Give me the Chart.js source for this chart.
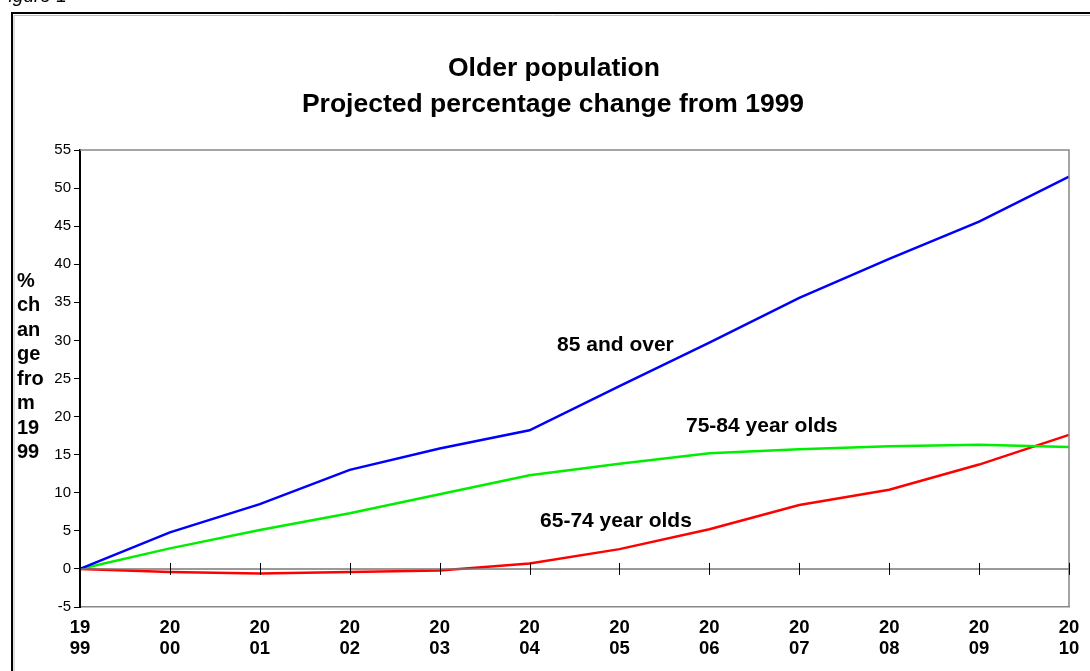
<!DOCTYPE html>
<html lang="en">
<head>
    <meta charset="UTF-8">
    <title>Older population</title>
    <script src="https://cdn.jsdelivr.net/npm/chart.js"></script>
    <style>
        html, body { margin: 0; padding: 0; background: #fff; }
        #wrap { position: relative; width: 1090px; height: 671px; }
    </style>
</head>
<body>
<div id="wrap"><canvas id="chart" width="1090" height="671"></canvas></div>
<script>
    const years = ['1999', '2000', '2001', '2002', '2003', '2004', '2005', '2006', '2007', '2008', '2009', '2010'];
    const over85 = [0, 4.8, 8.5, 13.0, 15.8, 18.2, 24.0, 29.7, 35.6, 40.7, 45.6, 51.5];
    const age75to84 = [0, 2.7, 5.1, 7.3, 9.8, 12.3, 13.8, 15.2, 15.7, 16.1, 16.3, 16.0];
    const age65to74 = [0, -0.4, -0.6, -0.4, -0.2, 0.7, 2.6, 5.2, 8.4, 10.4, 13.7, 17.6];
    const yTicks = [-5, 0, 5, 10, 15, 20, 25, 30, 35, 40, 45, 50, 55];

    const font = '"Liberation Sans", Arial, sans-serif';

    // labels written on the plot, anchored to a category index and a value
    const notes = [
        { text: '85 and over', at: 5.306, value: 29.4 },
        { text: '75-84 year olds', at: 6.74, value: 18.8 },
        { text: '65-74 year olds', at: 5.117, value: 6.2 }
    ];

    const decor = {
        id: 'decor',
        beforeDraw(chart) {
            const c = chart.ctx;
            c.save();
            c.fillStyle = '#fff';
            c.fillRect(0, 0, chart.width, chart.height);
            // figure caption, cut off by the top edge
            c.fillStyle = '#000';
            c.font = 'italic 19px ' + font;
            c.textBaseline = 'alphabetic';
            c.fillText('Figure 1', -3, 2);
            // outer frame
            c.strokeStyle = '#bbb';
            c.lineWidth = 1;
            c.beginPath();
            c.moveTo(14, 680); c.lineTo(14, 15.5); c.lineTo(1100, 15.5);
            c.stroke();
            c.strokeStyle = '#000';
            c.lineWidth = 2;
            c.beginPath();
            c.moveTo(12, 680); c.lineTo(12, 13); c.lineTo(1100, 13);
            c.stroke();
            // titles
            c.textAlign = 'center';
            c.textBaseline = 'middle';
            c.font = 'bold 26.5px ' + font;
            c.fillText('Older population', 554, 69);
            c.fillText('Projected percentage change from 1999', 553, 105);
            // stacked y axis title
            c.textAlign = 'left';
            c.font = 'bold 20px ' + font;
            ['%', 'ch', 'an', 'ge', 'fro', 'm', '19', '99'].forEach((s, i) => {
                c.fillText(s, 17, 281 + i * 24.5);
            });
            c.restore();
        },
        afterDatasetsDraw(chart) {
            const c = chart.ctx;
            const a = chart.chartArea;
            const x = chart.scales.x, y = chart.scales.y;
            c.save();
            // grey frame on top and right
            c.strokeStyle = '#888';
            c.lineWidth = 1.5;
            c.beginPath();
            c.moveTo(a.left, a.top); c.lineTo(a.right, a.top); c.lineTo(a.right, a.bottom);
            c.stroke();
            // zero line with category ticks
            const y0 = y.getPixelForValue(0);
            c.strokeStyle = '#777';
            c.lineWidth = 1.5;
            c.beginPath();
            c.moveTo(a.left, y0); c.lineTo(a.right, y0);
            c.stroke();
            c.strokeStyle = '#000';
            c.lineWidth = 1;
            years.forEach((yr, i) => {
                const px = Math.round(x.getPixelForValue(i)) + 0.5;
                c.beginPath();
                c.moveTo(px, y0 - 6); c.lineTo(px, y0 + 6);
                c.stroke();
            });
            // series notes
            c.fillStyle = '#000';
            c.font = 'bold 21px ' + font;
            c.textAlign = 'left';
            c.textBaseline = 'middle';
            notes.forEach(n => {
                c.fillText(n.text, x.getPixelForValue(n.at), y.getPixelForValue(n.value));
            });
            c.restore();
        }
    };

    new Chart(document.getElementById('chart'), {
        type: 'line',
        data: {
            labels: years.map(s => [s.slice(0, 2), s.slice(2)]),
            datasets: [
                { label: '85 and over', data: over85, borderColor: '#0000ff' },
                { label: '75-84 year olds', data: age75to84, borderColor: '#00ee00' },
                { label: '65-74 year olds', data: age65to74, borderColor: '#ff0000' }
            ]
        },
        options: {
            responsive: false,
            animation: false,
            layout: { padding: { top: 150, right: 21, left: 0, bottom: 0 } },
            elements: {
                line: { borderWidth: 2.5, tension: 0 },
                point: { radius: 0 }
            },
            plugins: {
                legend: { display: false },
                title: { display: false },
                tooltip: { enabled: false }
            },
            scales: {
                x: {
                    offset: false,
                    grid: { drawOnChartArea: false, drawTicks: false },
                    border: { color: '#888', width: 1.5 },
                    ticks: {
                        color: '#000',
                        padding: 10,
                        maxRotation: 0,
                        autoSkip: false,
                        font: { family: font, size: 18.5, weight: 'bold', lineHeight: 1.15 }
                    },
                    afterFit(scale) { scale.height = 64; }
                },
                y: {
                    min: -5,
                    max: 55,
                    afterBuildTicks(scale) { scale.ticks = yTicks.map(v => ({ value: v })); },
                    grid: { drawOnChartArea: false, drawTicks: true, tickLength: 6, color: '#000' },
                    border: { color: '#000', width: 2 },
                    ticks: {
                        color: '#000',
                        padding: 3,
                        font: { family: font, size: 15 }
                    },
                    afterFit(scale) { scale.width = 80; }
                }
            }
        },
        plugins: [decor]
    });
</script>
</body>
</html>
